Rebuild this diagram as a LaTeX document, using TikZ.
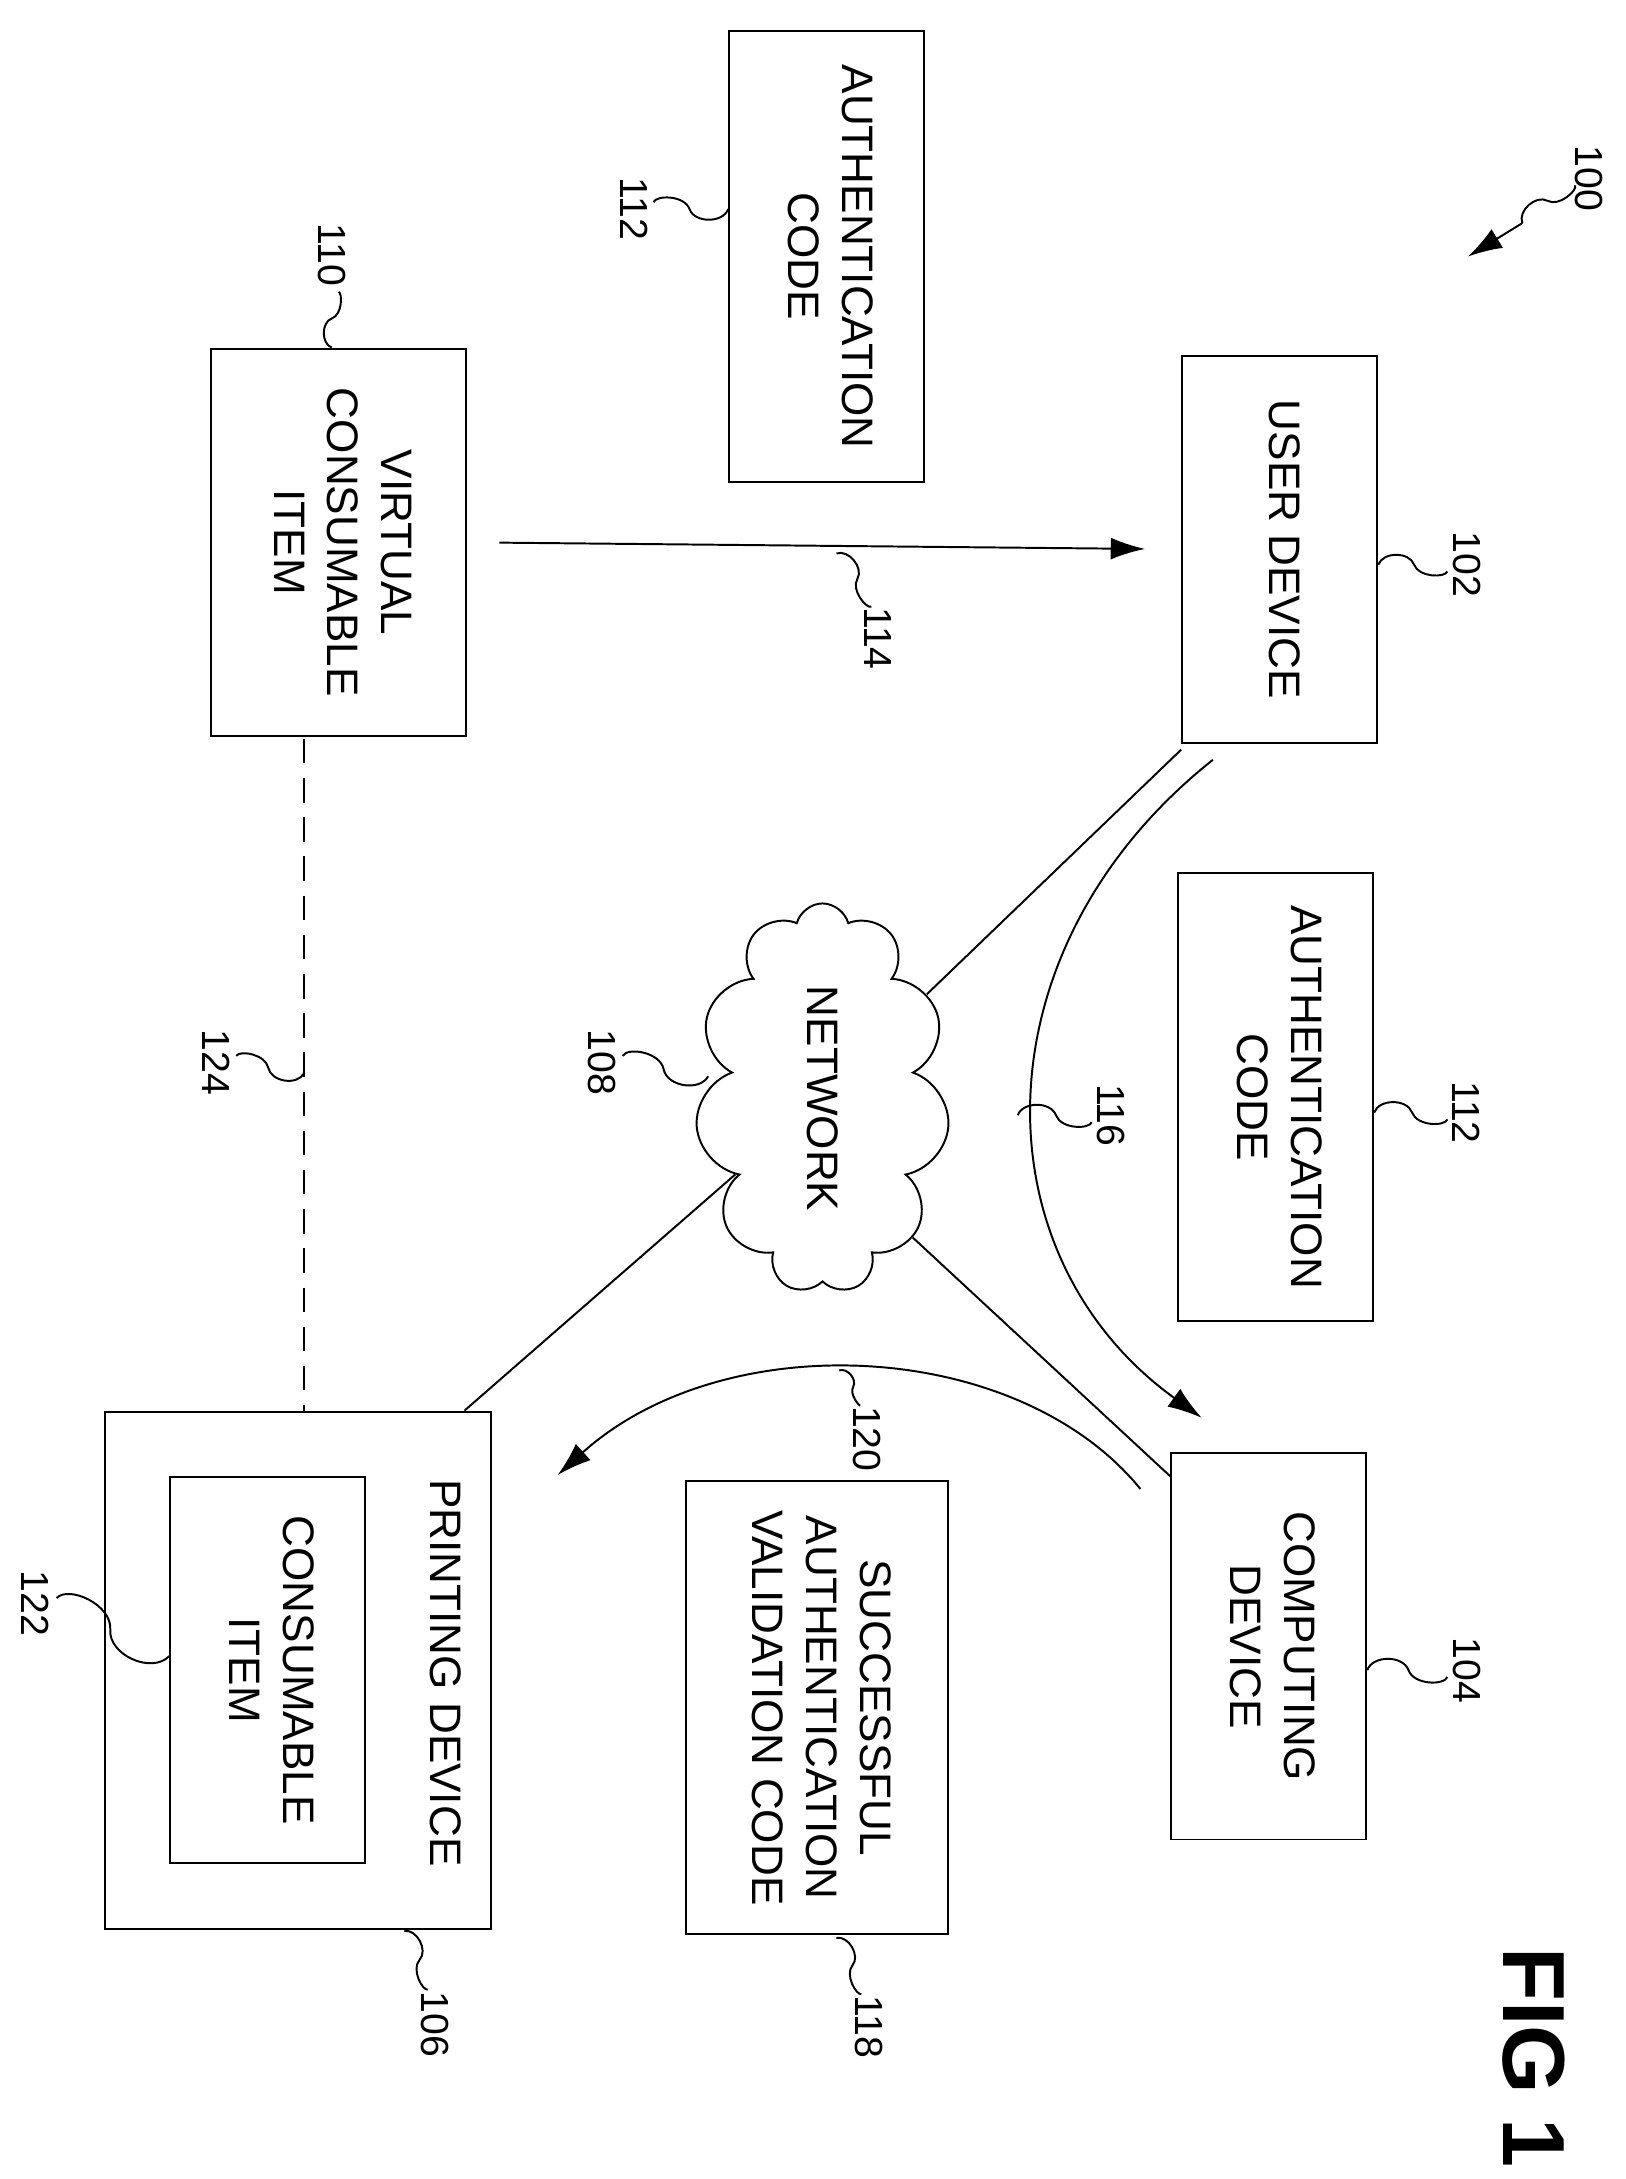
\documentclass[tikz,border=0pt]{standalone}
\usepackage{fontspec}
\setmainfont{Liberation Sans}
\usetikzlibrary{shapes.symbols,calc,arrows.meta}

\newcommand{\vtext}[1]{\rotatebox{-90}{\begin{tabular}{@{}c@{}}#1\end{tabular}}}
\newcommand{\lead}[2]{\draw[thick,shorten <=3pt] (#1) to[bend left=70] ($(#1)!0.5!(#2)$) to[bend right=70] (#2);}

\tikzset{
    box/.style={draw,thick,inner sep=0pt,font=\fontsize{18}{22}\selectfont},
    num/.style={font=\fontsize{16}{19}\selectfont,inner sep=1pt,rotate=-90},
    conn/.style={thick},
    flow/.style={thick,-{Latex[length=14pt,width=9pt]}}
}

\begin{document}
\begin{tikzpicture}[x=0.02cm,y=-0.02cm]
    \useasboundingbox (0,0) rectangle (1166,1563);
    % boxes
    \node[box,minimum width=2.8cm,minimum height=6.48cm] (ac1) at (593,184) {\vtext{AUTHENTICATION\\CODE}};
    \node[box,minimum width=3.66cm,minimum height=5.56cm] (vci) at (243,389) {\vtext{VIRTUAL\\CONSUMABLE\\ITEM}};
    \node[box,minimum width=2.8cm,minimum height=5.56cm] (ud) at (918,394) {\vtext{USER DEVICE}};
    \node[box,minimum width=2.8cm,minimum height=6.42cm] (ac2) at (915,787) {\vtext{AUTHENTICATION\\CODE}};
    \node[box,minimum width=2.8cm,minimum height=5.54cm] (cd) at (910,1181) {\vtext{COMPUTING\\DEVICE}};
    \node[box,minimum width=3.76cm,minimum height=6.5cm] (savc) at (586,1225) {\vtext{SUCCESSFUL\\AUTHENTICATION\\VALIDATION CODE}};
    \node[box,minimum width=5.54cm,minimum height=7.42cm] (pd) at (214,1198) {};
    \node[box,minimum width=2.8cm,minimum height=5.54cm] (ci) at (192,1198) {\vtext{CONSUMABLE\\ITEM}};
    \node[font=\fontsize{18}{22}\selectfont] (pdt) at (320,1200) {\rotatebox{-90}{PRINTING DEVICE}};
    \node[cloud,draw,thick,cloud puffs=11,aspect=0.55,minimum width=3.2cm,minimum height=5.6cm,font=\fontsize{18}{22}\selectfont] (net) at (590,788) {\rotatebox{-90}{NETWORK}};

    % connectors
    \draw[flow,shorten <=0.46cm,shorten >=0.52cm] (vci.east) -- (ud.west);
    \draw[conn,dash pattern=on 10pt off 6pt] (218,530) -- (pd.north -| 218,530);
    \draw[conn] (net.45) -- ($(ud.south west)+(0,4)$);
    \draw[conn] (net.221) -- ($(pd.north east)+(-20,0)$);
    \draw[conn] (net.303) -- ($(cd.north west)+(0,17)$);
    \coordinate (a116s) at (870,545);
    \coordinate (a116e) at (862,1017);
    \draw[flow] (a116s) .. controls (700,680) and (700,900) .. (a116e);
    \coordinate (a120s) at (818,1068);
    \coordinate (a120e) at (400,1058);
    \draw[flow] (a120s) .. controls (730,960) and (520,950) .. (a120e);

    % reference numerals
    \node[num] (n100) at (1140,128) {100};
    \coordinate (p100) at (1092,160);
    \lead{n100.south}{p100}
    \draw[flow] (p100) -- (1053,184);
    \node[num] (n110) at (238,183) {110};
    \lead{n110.east}{vci.north -| n110.east}
    \node[num] (n112a) at (455,150) {112};
    \lead{n112a.north}{ac1.west |- n112a.north}
    \node[num] (n102) at (1052,405) {102};
    \lead{n102.south}{ud.east |- n102.south}
    \node[num] (n114) at (630,458) {114};
    \lead{n114.west}{600,397}
    \node[num] (n116) at (797,800) {116};
    \lead{n116.south}{730,800}
    \node[num] (n112b) at (1052,798) {112};
    \lead{n112b.south}{ac2.east |- n112b.south}
    \node[num] (n108) at (432,762) {108};
    \lead{n108.north}{508,772}
    \node[num] (n124) at (155,762) {124};
    \lead{n124.north}{218,770}
    \node[num] (n104) at (1052,1198) {104};
    \lead{n104.south}{cd.east |- n104.south}
    \node[num] (n120) at (622,1032) {120};
    \lead{n120.west}{602,983}
    \node[num] (n122) at (25,1150) {122};
    \lead{n122.north}{ci.west |- 0,1188}
    \node[num] (n106) at (312,1452) {106};
    \lead{n106.west}{290,1385}
    \node[num] (n118) at (623,1454) {118};
    \lead{n118.west}{600,1390}
    \node[rotate=-90,font=\fontsize{36}{40}\bfseries\selectfont] (fig) at (1100,1476) {FIG 1};
\end{tikzpicture}
\end{document}
